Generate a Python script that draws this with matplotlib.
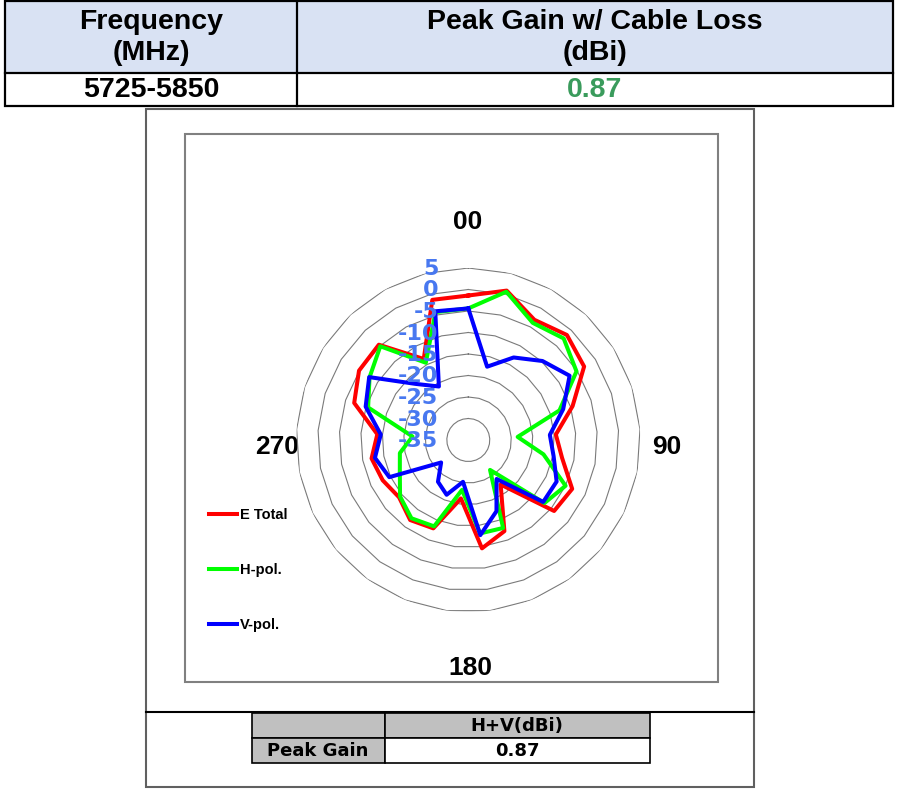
import numpy as np
import matplotlib
matplotlib.use('Agg')
import matplotlib.pyplot as plt
from matplotlib.patches import Rectangle

# measured angles 0..360 step 15 (25 spokes, like the Excel radar sheet)
angles = list(range(0, 361, 15))
e_total = [-1.4, 0.87, -3.1, -1.5, -3.1, -9.5, -14.6, -12.8, -8.3, -9.1, -22.2, -12.2, -9.6,
           -21.3, -12.9, -12.0, -14.1, -13.0, -12.1, -13.8, -7.1, -4.9, -4.6, -13.5, -1.35]
h_pol = [-4.4, 0.6, -3.9, -2.6, -5.2, -12.7, -23.5, -17.2, -10.0, -12.0, -26.4, -13.0, -13.1,
         -23.3, -13.4, -12.5, -14.4, -17.4, -18.8, -22.0, -10.5, -7.8, -5.1, -14.5, -4.3]
v_pol = [-4.4, -17.4, -13.1, -9.8, -7.1, -11.8, -16.0, -14.8, -12.3, -12.4, -23.8, -17.2, -12.7,
         -25.2, -21.3, -23.0, -26.8, -14.7, -12.9, -14.6, -9.9, -7.7, -17.1, -20.8, -4.1]
series_names = ['E Total', 'H-pol.', 'V-pol.']
series_colors = ['#FF0000', '#00FF00', '#0000FF']
ring_vals = [5, 0, -5, -10, -15, -20, -25, -30, -35]
dir_labels = ['00', '90', '180', '270']
freq_band = '5725-5850'
peak_gain = '0.87'

W, H = 897, 789
fig = plt.figure(figsize=(W / 100, H / 100), dpi=100)

# background axes in pixel coords for tables / boxes
bg = fig.add_axes([0, 0, 1, 1])
bg.set_xlim(0, W)
bg.set_ylim(H, 0)
bg.axis('off')


def box(x0, y0, x1, y1, fc='none', ec='black', lw=1.5, z=1):
    bg.add_patch(Rectangle((x0, y0), x1 - x0, y1 - y0, fc=fc, ec=ec, lw=lw, zorder=z))


arial = 'Liberation Sans'
verd = 'DejaVu Sans'

#---------------------------- top table ----------------------------#
box(5, 1, 893, 73, fc='#D9E2F3', ec='none')
box(5, 1, 893, 106, lw=1.6)
bg.plot([5, 893], [73, 73], color='black', lw=1.6)
bg.plot([297, 297], [1, 106], color='black', lw=1.6)
tkw = dict(ha='center', va='center', fontsize=20.5, fontweight='bold', family=arial)
bg.text(151, 22, 'Frequency', **tkw)
bg.text(151, 53, '(MHz)', **tkw)
bg.text(595, 22, 'Peak Gain w/ Cable Loss', **tkw)
bg.text(595, 53, '(dBi)', **tkw)
bg.text(151, 90, freq_band, **tkw)
bg.text(595, 90, peak_gain, color='#3A9B5C', **tkw)

#---------------------------- chart frame ----------------------------#
box(146, 109, 754, 787, ec='#606060', lw=1.5)
box(185, 134, 718, 682, ec='#808080', lw=1.5)
bg.plot([146, 754], [712, 712], color='black', lw=1.5)

# bottom small table
box(252, 713, 385, 738, fc='#C0C0C0', lw=1.2)
box(385, 713, 650, 738, fc='#C0C0C0', lw=1.2)
box(252, 738, 385, 763, fc='#C0C0C0', lw=1.2)
box(385, 738, 650, 763, fc='white', lw=1.2)
skw = dict(ha='center', va='center', fontsize=13, fontweight='bold', family=verd)
bg.text(517, 726, 'H+V(dBi)', **skw)
bg.text(318, 751, 'Peak Gain', **skw)
bg.text(517, 751, peak_gain, **skw)

# direction labels
dkw = dict(ha='center', va='center', fontsize=19, fontweight='bold', family=arial)
for lab, (x, y) in zip(dir_labels, [(468, 222), (667, 447), (470, 668), (277, 447)]):
    bg.text(x, y, lab, **dkw)

#---------------------------- radar ----------------------------#
cx, cy, R = 468.3, 440, 172
ax = fig.add_axes([(cx - R) / W, (H - cy - R) / H, 2 * R / W, 2 * R / H], projection='polar')
ax.set_theta_zero_location('N')
ax.set_theta_direction(-1)
ax.set_ylim(-35, 5)
ax.grid(False)
ax.set_xticks([])
ax.set_yticks([])
ax.spines['polar'].set_visible(False)
ax.patch.set_alpha(0)

theta = np.arange(len(angles)) * 2 * np.pi / len(angles)
theta_c = np.append(theta, theta[0])

for v in ring_vals[:-1]:
    ax.plot(theta_c, [v] * len(theta_c), color='#7A7A7A', lw=0.8, zorder=1)

lines = []
for vals, name, col in zip([e_total, h_pol, v_pol], series_names, series_colors):
    l, = ax.plot(theta_c, np.append(vals, vals[0]), color=col, lw=2.9, label=name, zorder=2)
    lines.append(l)

for v in ring_vals:
    ax.annotate(str(v), xy=(0, v), xytext=(-30, -1), textcoords='offset pixels',
                ha='right', va='center', color='#4878F0', fontsize=16,
                fontweight='bold', family=verd, annotation_clip=False, zorder=3)

fig.legend(lines, series_names, loc='center left', bbox_to_anchor=(209 / W, 1 - 570 / H),
           frameon=False, borderaxespad=0, borderpad=0, handlelength=1.9,
           handletextpad=0.25, labelspacing=2.8,
           prop=dict(family=arial, weight='bold', size=10.5))

plt.savefig('out.png', dpi=100)
